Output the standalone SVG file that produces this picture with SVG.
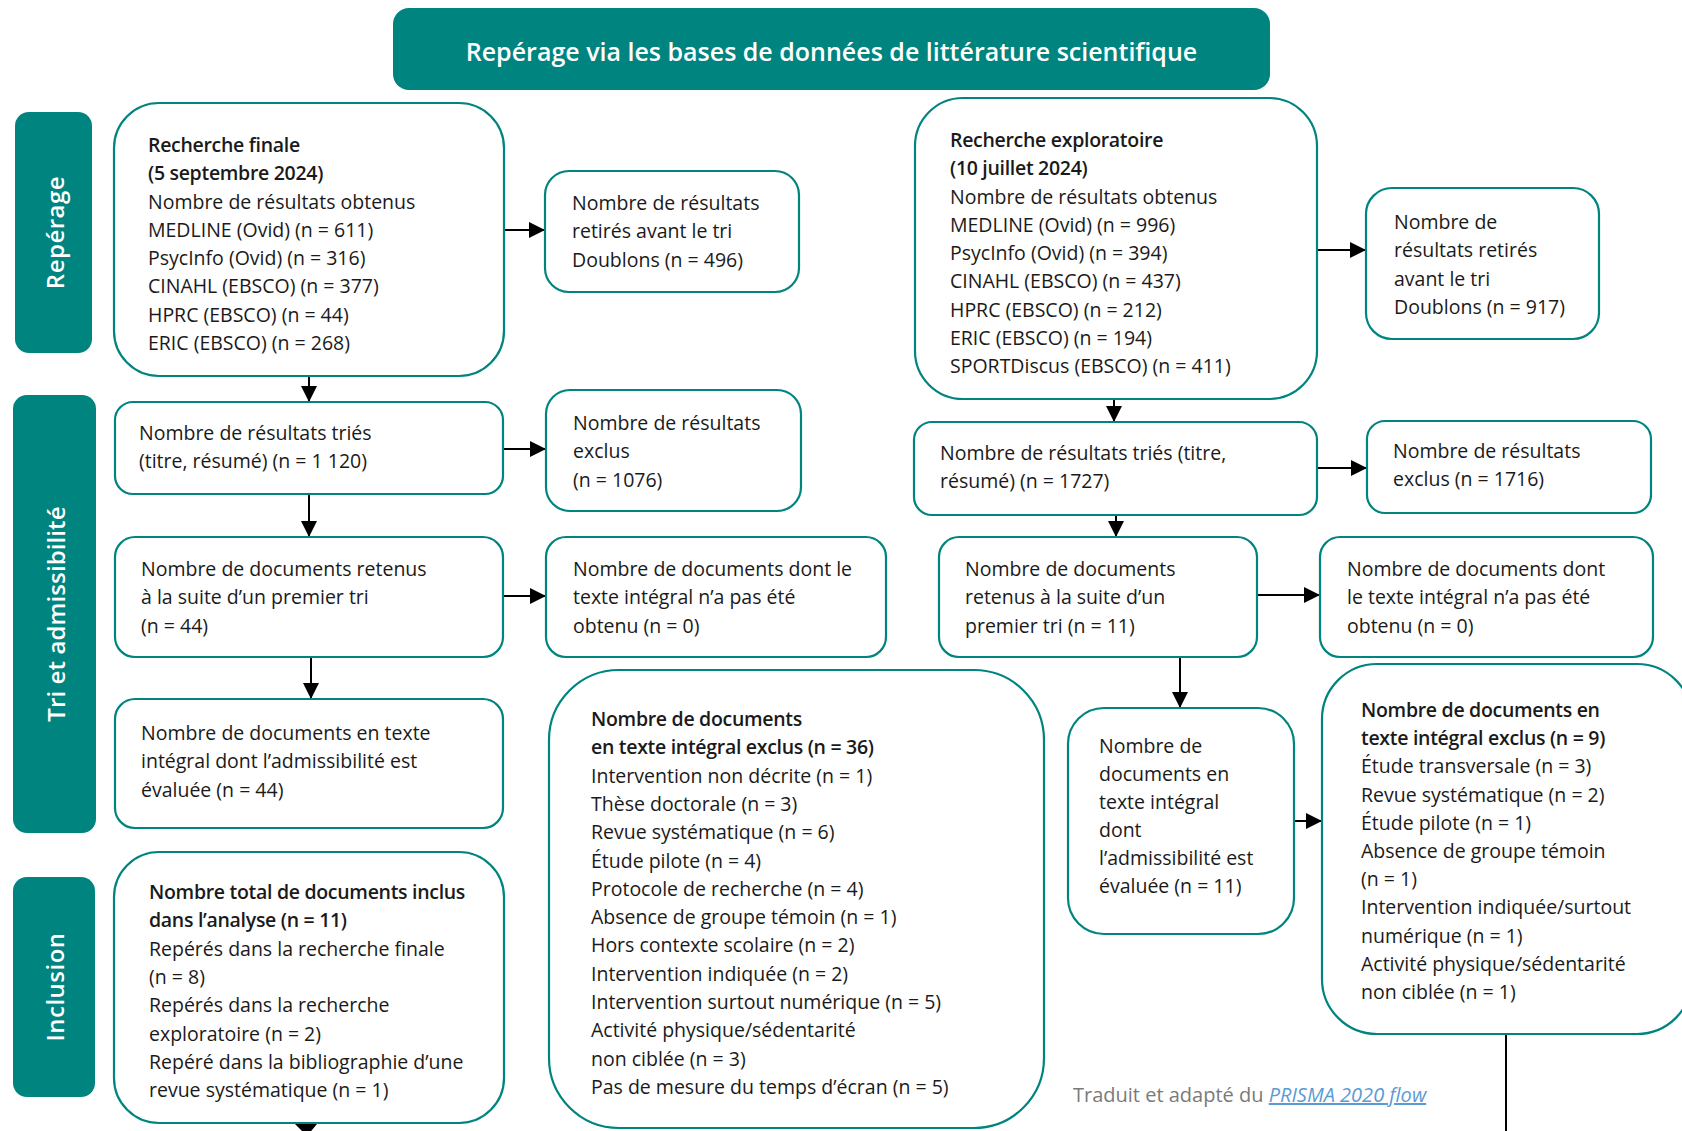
<svg xmlns="http://www.w3.org/2000/svg" width="1682" height="1131" viewBox="0 0 1682 1131">
<defs>
<style>
.bg{fill:#ffffff}
.band{fill:#00847f}
.box{fill:#ffffff;stroke:#00847f;stroke-width:2.2}
.t{font-family:"Open Sans","Noto Sans","Liberation Sans",sans-serif;font-size:19.5px;fill:#1a1a1a}
.b{font-weight:600;letter-spacing:-0.3px}
.side{font-family:"Open Sans","Noto Sans","Liberation Sans",sans-serif;font-size:24px;font-weight:600;fill:#ffffff;letter-spacing:0.5px}
.title{font-family:"Open Sans","Noto Sans","Liberation Sans",sans-serif;font-size:25px;font-weight:600;fill:#ffffff}
.arr{stroke:#000;stroke-width:2;fill:none;marker-end:url(#ah)}
.ln{stroke:#000;stroke-width:2;fill:none}
.foot{font-family:"Open Sans","Noto Sans","Liberation Sans",sans-serif;font-size:20px;fill:#7a7a7a}
.link{fill:#5b9bd5;font-style:italic;text-decoration:underline}
</style>
<marker id="ah" markerUnits="userSpaceOnUse" markerWidth="16" markerHeight="16" refX="16" refY="8" orient="auto">
<path d="M0,0 L16,8 L0,16 z" fill="#000"/>
</marker>
</defs>
<rect class="bg" x="0" y="0" width="1682" height="1131"/>

<g id="title">
<rect class="band" x="393" y="8" width="877" height="82" rx="16"/>
<text class="title" x="831.5" y="61" text-anchor="middle">Repérage via les bases de données de littérature scientifique</text>
</g>

<g id="side-reperage">
<rect class="band" x="15" y="112" width="77" height="241" rx="14"/>
<text class="side" transform="translate(54,232.5) rotate(-90)" text-anchor="middle" dominant-baseline="central">Repérage</text>
</g>
<g id="side-tri">
<rect class="band" x="13" y="395" width="83" height="438" rx="14"/>
<text class="side" transform="translate(55,614) rotate(-90)" text-anchor="middle" dominant-baseline="central" style="letter-spacing:0.1px">Tri et admissibilité</text>
</g>
<g id="side-inclusion">
<rect class="band" x="13" y="877" width="82" height="220" rx="14"/>
<text class="side" transform="translate(54,987) rotate(-90)" text-anchor="middle" dominant-baseline="central">Inclusion</text>
</g>

<g id="connectors">
<line class="arr" x1="504" y1="230" x2="545" y2="230"/>
<line class="arr" x1="309" y1="376" x2="309" y2="402"/>
<line class="arr" x1="503" y1="449" x2="546" y2="449"/>
<line class="arr" x1="309" y1="494" x2="309" y2="537"/>
<line class="arr" x1="503" y1="596" x2="546" y2="596"/>
<line class="arr" x1="311" y1="657" x2="311" y2="699"/>
<line class="arr" x1="1317" y1="250" x2="1366" y2="250"/>
<line class="arr" x1="1114" y1="400" x2="1114" y2="422"/>
<line class="arr" x1="1317" y1="468" x2="1367" y2="468"/>
<line class="arr" x1="1116" y1="515" x2="1116" y2="537"/>
<line class="arr" x1="1257" y1="595" x2="1320" y2="595"/>
<line class="arr" x1="1180" y1="657" x2="1180" y2="708"/>
<line class="arr" x1="1294" y1="821" x2="1322" y2="821"/>
<line class="ln" x1="1506" y1="1034" x2="1506" y2="1131"/>
<polygon points="295,1124 317,1124 307,1136" fill="#000"/>
</g>

<g id="n-finale">
<rect class="box" x="114" y="103" width="390" height="273" rx="45"/>
<text class="t"><tspan class="b" x="148" y="152">Recherche finale</tspan><tspan class="b" x="148" y="180.3">(5 septembre 2024)</tspan><tspan x="148" y="208.5">Nombre de résultats obtenus</tspan><tspan x="148" y="236.8">MEDLINE (Ovid) (n = 611)</tspan><tspan x="148" y="265">PsycInfo (Ovid) (n = 316)</tspan><tspan x="148" y="293.3">CINAHL (EBSCO) (n = 377)</tspan><tspan x="148" y="321.5">HPRC (EBSCO) (n = 44)</tspan><tspan x="148" y="349.8">ERIC (EBSCO) (n = 268)</tspan></text>
</g>

<g id="n-retires-finale">
<rect class="box" x="545" y="171" width="254" height="121" rx="24"/>
<text class="t"><tspan x="572" y="210">Nombre de résultats</tspan><tspan x="572" y="238.3">retirés avant le tri</tspan><tspan x="572" y="266.6">Doublons (n = 496)</tspan></text>
</g>

<g id="n-tries-finale">
<rect class="box" x="115" y="402" width="388" height="92" rx="18"/>
<text class="t"><tspan x="139" y="440">Nombre de résultats triés</tspan><tspan x="139" y="468.3">(titre, résumé) (n = 1 120)</tspan></text>
</g>

<g id="n-exclus-finale">
<rect class="box" x="546" y="390" width="255" height="121" rx="24"/>
<text class="t"><tspan x="573" y="430">Nombre de résultats</tspan><tspan x="573" y="458.3">exclus</tspan><tspan x="573" y="486.6">(n = 1076)</tspan></text>
</g>

<g id="n-retenus-finale">
<rect class="box" x="115" y="537" width="388" height="120" rx="20"/>
<text class="t"><tspan x="141" y="576">Nombre de documents retenus</tspan><tspan x="141" y="604.3">à la suite d’un premier tri</tspan><tspan x="141" y="632.6">(n = 44)</tspan></text>
</g>

<g id="n-nonobtenu-finale">
<rect class="box" x="546" y="537" width="340" height="120" rx="20"/>
<text class="t"><tspan x="573" y="576">Nombre de documents dont le</tspan><tspan x="573" y="604.3">texte intégral n’a pas été</tspan><tspan x="573" y="632.6">obtenu (n = 0)</tspan></text>
</g>

<g id="n-admissibilite-finale">
<rect class="box" x="115" y="699" width="388" height="129" rx="20"/>
<text class="t"><tspan x="141" y="740">Nombre de documents en texte</tspan><tspan x="141" y="768.3">intégral dont l’admissibilité est</tspan><tspan x="141" y="796.6">évaluée (n = 44)</tspan></text>
</g>

<g id="n-exclus36">
<rect class="box" x="549" y="670" width="495" height="458" rx="70"/>
<text class="t"><tspan class="b" x="591" y="726">Nombre de documents</tspan><tspan class="b" x="591" y="754.3">en texte intégral exclus (n = 36)</tspan><tspan x="591" y="782.6">Intervention non décrite (n = 1)</tspan><tspan x="591" y="810.9">Thèse doctorale (n = 3)</tspan><tspan x="591" y="839.2">Revue systématique (n = 6)</tspan><tspan x="591" y="867.5">Étude pilote (n = 4)</tspan><tspan x="591" y="895.8">Protocole de recherche (n = 4)</tspan><tspan x="591" y="924.1">Absence de groupe témoin (n = 1)</tspan><tspan x="591" y="952.4">Hors contexte scolaire (n = 2)</tspan><tspan x="591" y="980.7">Intervention indiquée (n = 2)</tspan><tspan x="591" y="1009">Intervention surtout numérique (n = 5)</tspan><tspan x="591" y="1037.3">Activité physique/sédentarité</tspan><tspan x="591" y="1065.6">non ciblée (n = 3)</tspan><tspan x="591" y="1093.9">Pas de mesure du temps d’écran (n = 5)</tspan></text>
</g>

<g id="n-inclusion">
<rect class="box" x="114" y="852" width="390" height="271" rx="45"/>
<text class="t"><tspan class="b" x="149" y="899">Nombre total de documents inclus</tspan><tspan class="b" x="149" y="927.3">dans l’analyse (n = 11)</tspan><tspan x="149" y="955.6">Repérés dans la recherche finale</tspan><tspan x="149" y="983.9">(n = 8)</tspan><tspan x="149" y="1012.2">Repérés dans la recherche</tspan><tspan x="149" y="1040.5">exploratoire (n = 2)</tspan><tspan x="149" y="1068.8">Repéré dans la bibliographie d’une</tspan><tspan x="149" y="1097.1">revue systématique (n = 1)</tspan></text>
</g>

<g id="n-exploratoire">
<rect class="box" x="915" y="98" width="402" height="301" rx="48"/>
<text class="t"><tspan class="b" x="950" y="147">Recherche exploratoire</tspan><tspan class="b" x="950" y="175.3">(10 juillet 2024)</tspan><tspan x="950" y="203.5">Nombre de résultats obtenus</tspan><tspan x="950" y="231.8">MEDLINE (Ovid) (n = 996)</tspan><tspan x="950" y="260">PsycInfo (Ovid) (n = 394)</tspan><tspan x="950" y="288.3">CINAHL (EBSCO) (n = 437)</tspan><tspan x="950" y="316.5">HPRC (EBSCO) (n = 212)</tspan><tspan x="950" y="344.8">ERIC (EBSCO) (n = 194)</tspan><tspan x="950" y="373">SPORTDiscus (EBSCO) (n = 411)</tspan></text>
</g>

<g id="n-retires-exploratoire">
<rect class="box" x="1366" y="188" width="233" height="151" rx="26"/>
<text class="t"><tspan x="1394" y="229">Nombre de</tspan><tspan x="1394" y="257.3">résultats retirés</tspan><tspan x="1394" y="285.6">avant le tri</tspan><tspan x="1394" y="313.9">Doublons (n = 917)</tspan></text>
</g>

<g id="n-tries-exploratoire">
<rect class="box" x="914" y="422" width="403" height="93" rx="18"/>
<text class="t"><tspan x="940" y="460">Nombre de résultats triés (titre,</tspan><tspan x="940" y="488.3">résumé) (n = 1727)</tspan></text>
</g>

<g id="n-exclus-exploratoire">
<rect class="box" x="1367" y="421" width="284" height="92" rx="18"/>
<text class="t"><tspan x="1393" y="458">Nombre de résultats</tspan><tspan x="1393" y="486.3">exclus (n = 1716)</tspan></text>
</g>

<g id="n-retenus-exploratoire">
<rect class="box" x="939" y="537" width="318" height="120" rx="20"/>
<text class="t"><tspan x="965" y="576">Nombre de documents</tspan><tspan x="965" y="604.3">retenus à la suite d’un</tspan><tspan x="965" y="632.6">premier tri (n = 11)</tspan></text>
</g>

<g id="n-nonobtenu-exploratoire">
<rect class="box" x="1320" y="537" width="333" height="120" rx="20"/>
<text class="t"><tspan x="1347" y="576">Nombre de documents dont</tspan><tspan x="1347" y="604.3">le texte intégral n’a pas été</tspan><tspan x="1347" y="632.6">obtenu (n = 0)</tspan></text>
</g>

<g id="n-admissibilite-exploratoire">
<rect class="box" x="1068" y="708" width="226" height="226" rx="36"/>
<text class="t"><tspan x="1099" y="753">Nombre de</tspan><tspan x="1099" y="781">documents en</tspan><tspan x="1099" y="809">texte intégral</tspan><tspan x="1099" y="837">dont</tspan><tspan x="1099" y="865">l’admissibilité est</tspan><tspan x="1099" y="893">évaluée (n = 11)</tspan></text>
</g>

<g id="n-exclus9">
<rect class="box" x="1322" y="664" width="370" height="370" rx="55"/>
<text class="t"><tspan class="b" x="1361" y="717">Nombre de documents en</tspan><tspan class="b" x="1361" y="745.2">texte intégral exclus (n = 9)</tspan><tspan x="1361" y="773.4">Étude transversale (n = 3)</tspan><tspan x="1361" y="801.6">Revue systématique (n = 2)</tspan><tspan x="1361" y="829.8">Étude pilote (n = 1)</tspan><tspan x="1361" y="858">Absence de groupe témoin</tspan><tspan x="1361" y="886.2">(n = 1)</tspan><tspan x="1361" y="914.4">Intervention indiquée/surtout</tspan><tspan x="1361" y="942.6">numérique (n = 1)</tspan><tspan x="1361" y="970.8">Activité physique/sédentarité</tspan><tspan x="1361" y="999">non ciblée (n = 1)</tspan></text>
</g>

<g id="footer">
<text class="foot" x="1073" y="1102">Traduit et adapté du <tspan class="link">PRISMA 2020 flow</tspan></text>
</g>
</svg>
